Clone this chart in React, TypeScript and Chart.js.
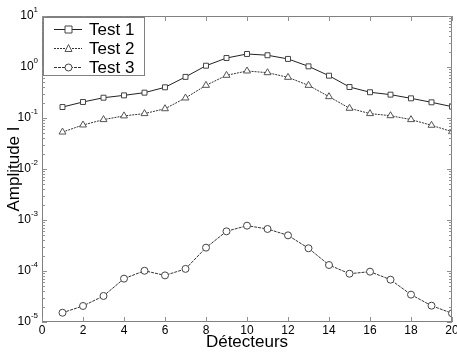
import React, { useEffect, useRef } from "react";
import { Chart, registerables } from "chart.js";

Chart.register(...registerables);

const detectors = [1, 2, 3, 4, 5, 6, 7, 8, 9, 10, 11, 12, 13, 14, 15, 16, 17, 18, 19, 20];
const test1 = [0.164, 0.206, 0.25, 0.278, 0.314, 0.4, 0.64, 1.06, 1.5, 1.8, 1.7, 1.44, 1.03, 0.675, 0.405, 0.32, 0.287, 0.243, 0.203, 0.167];
const test2 = [0.053, 0.073, 0.093, 0.11, 0.122, 0.152, 0.247, 0.437, 0.687, 0.835, 0.774, 0.627, 0.437, 0.262, 0.155, 0.122, 0.111, 0.093, 0.072, 0.054];
const test3 = [1.52e-5, 2.06e-5, 3.24e-5, 7.08e-5, 1.01e-4, 8.2e-5, 1.1e-4, 2.87e-4, 6.0e-4, 7.74e-4, 6.67e-4, 5.0e-4, 2.79e-4, 1.31e-4, 8.85e-5, 9.7e-5, 6.76e-5, 3.44e-5, 2.09e-5, 1.48e-5];
const seriesNames = ["Test 1", "Test 2", "Test 3"];
const xTicks = [0, 2, 4, 6, 8, 10, 12, 14, 16, 18, 20];
const yExponents = [1, 0, -1, -2, -3, -4, -5];

const FONT = "'Liberation Sans', Arial, sans-serif";

const framePlugin = {
  id: "frame",
  afterDraw(chart: any) {
    const ctx = chart.ctx;
    const a = chart.chartArea;
    const xs = chart.scales.x;
    const ys = chart.scales.y;
    ctx.save();
    ctx.strokeStyle = "#808080";
    ctx.lineWidth = 1;
    ctx.strokeRect(a.left + 0.5, a.top + 0.5, a.right - a.left - 1, a.bottom - a.top - 1);
    ctx.strokeStyle = "#909090";
    for (const v of xTicks) {
      const px = Math.round(xs.getPixelForValue(v)) + 0.5;
      ctx.beginPath();
      ctx.moveTo(px, a.bottom);
      ctx.lineTo(px, a.bottom - 5);
      ctx.moveTo(px, a.top);
      ctx.lineTo(px, a.top + 5);
      ctx.stroke();
    }
    for (const e of yExponents) {
      for (let m = 1; m <= 9; m++) {
        const v = m * Math.pow(10, e);
        if (v > 10.0001) continue;
        const py = Math.round(ys.getPixelForValue(v)) + 0.5;
        const len = m === 1 ? 5 : 3;
        ctx.beginPath();
        ctx.moveTo(a.left, py);
        ctx.lineTo(a.left + len, py);
        ctx.moveTo(a.right, py);
        ctx.lineTo(a.right - len, py);
        ctx.stroke();
      }
    }
    ctx.fillStyle = "#000";
    ctx.font = `12px ${FONT}`;
    ctx.textAlign = "center";
    ctx.textBaseline = "top";
    for (const v of xTicks) {
      const px = xs.getPixelForValue(v);
      ctx.fillText(String(v), px, a.bottom + 3);
    }
    for (const e of yExponents) {
      const py = ys.getPixelForValue(Math.pow(10, e));
      const exp = String(e);
      ctx.font = `8px ${FONT}`;
      const ew = ctx.measureText(exp).width;
      ctx.textAlign = "right";
      ctx.textBaseline = "middle";
      ctx.fillText(exp, a.left - 4, py - 6);
      ctx.font = `12px ${FONT}`;
      ctx.fillText("10", a.left - 4 - ew, py);
    }
    ctx.font = `17px ${FONT}`;
    ctx.textAlign = "center";
    ctx.textBaseline = "middle";
    ctx.fillText("Détecteurs", (a.left + a.right) / 2, 342);
    ctx.save();
    ctx.translate(14, (a.top + a.bottom) / 2);
    ctx.rotate(-Math.PI / 2);
    ctx.fillText("Amplitude I", 0, 0);
    ctx.restore();
    const lx = a.left + 1, ly = a.top + 1, lw = 102, lh = 59;
    ctx.fillStyle = "#fff";
    ctx.fillRect(lx, ly, lw, lh);
    ctx.strokeStyle = "#808080";
    ctx.strokeRect(lx + 0.5, ly + 0.5, lw - 1, lh - 1);
    const rows = [29, 48, 67];
    chart.data.datasets.forEach((ds: any, i: number) => {
      const y = rows[i] + 0.5;
      ctx.strokeStyle = ds.borderColor;
      ctx.lineWidth = 1;
      ctx.setLineDash(ds.borderDash || []);
      ctx.beginPath();
      ctx.moveTo(54, y);
      ctx.lineTo(82, y);
      ctx.stroke();
      ctx.setLineDash([]);
      ctx.strokeStyle = ds.pointBorderColor;
      ctx.fillStyle = "#fff";
      const cx = 68.5;
      const r = 3.5;
      ctx.beginPath();
      if (ds.pointStyle === "rect") {
        ctx.rect(cx - r, y - r, 2 * r, 2 * r);
      } else if (ds.pointStyle === "triangle") {
        ctx.moveTo(cx, y - r - 0.5);
        ctx.lineTo(cx + r, y + r - 0.5);
        ctx.lineTo(cx - r, y + r - 0.5);
        ctx.closePath();
      } else {
        ctx.arc(cx, y, r, 0, Math.PI * 2);
      }
      ctx.fill();
      ctx.stroke();
      ctx.fillStyle = "#000";
      ctx.font = `17px ${FONT}`;
      ctx.textAlign = "left";
      ctx.textBaseline = "middle";
      ctx.fillText(seriesNames[i], 89, y + 1);
    });
    ctx.restore();
  },
};

export default function App() {
  const ref = useRef<HTMLCanvasElement>(null);
  useEffect(() => {
    if (!ref.current) return;
    const mk = (values: number[]) => detectors.map((d, k) => ({ x: d, y: values[k] }));
    const chart = new Chart(ref.current, {
      type: "line",
      data: {
        datasets: [
          {
            label: seriesNames[0],
            data: mk(test1),
            borderColor: "#222",
            borderWidth: 1,
            pointStyle: "rect",
            pointRadius: 3.5,
            pointBorderColor: "#444",
            pointBackgroundColor: "#fff",
            pointBorderWidth: 1,
            tension: 0,
          },
          {
            label: seriesNames[1],
            data: mk(test2),
            borderColor: "#333",
            borderWidth: 1,
            borderDash: [2, 1],
            pointStyle: "triangle",
            pointRadius: 4,
            pointBorderColor: "#555",
            pointBackgroundColor: "#fff",
            pointBorderWidth: 1,
            tension: 0,
          },
          {
            label: seriesNames[2],
            data: mk(test3),
            borderColor: "#333",
            borderWidth: 1,
            borderDash: [3, 1],
            pointStyle: "circle",
            pointRadius: 3.5,
            pointBorderColor: "#444",
            pointBackgroundColor: "#fff",
            pointBorderWidth: 1,
            tension: 0,
          },
        ],
      },
      options: {
        animation: false,
        responsive: false,
        layout: { padding: { top: 16, right: 3, left: 0, bottom: 0 } },
        plugins: { legend: { display: false }, tooltip: { enabled: false } },
        scales: {
          x: {
            type: "linear",
            min: 0,
            max: 20,
            grid: { display: false },
            border: { display: false },
            ticks: { display: false },
            afterFit: (s: any) => { s.height = 32; },
          },
          y: {
            type: "logarithmic",
            min: 1e-5,
            max: 10,
            grid: { display: false },
            border: { display: false },
            ticks: { display: false },
            afterFit: (s: any) => { s.width = 42; },
          },
        },
      },
      plugins: [framePlugin],
    });
    return () => chart.destroy();
  }, []);
  return (
    <div style={{ position: "absolute", left: 0, top: 0, width: 457, height: 354, background: "#fff" }}>
      <canvas ref={ref} width={457} height={354} style={{ width: 457, height: 354 }} />
    </div>
  );
}
